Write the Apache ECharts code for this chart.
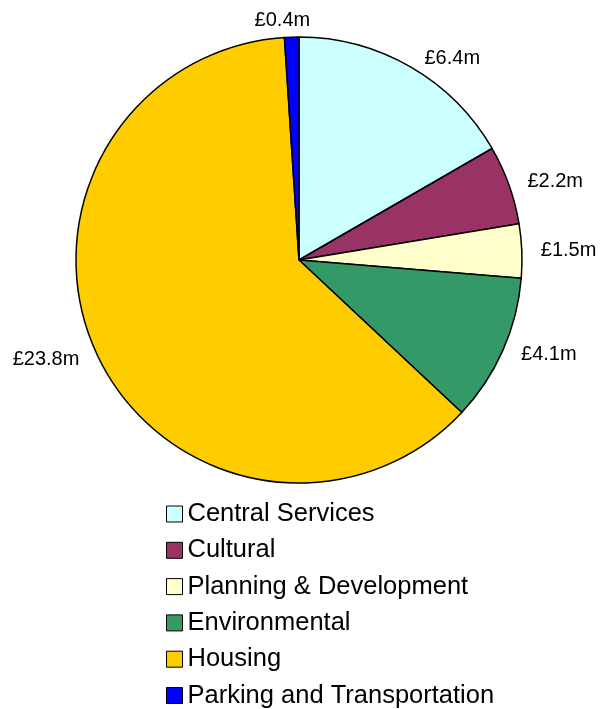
<!DOCTYPE html>
<html>
<head>
<meta charset="utf-8">
<script src="https://cdn.jsdelivr.net/npm/echarts@6/dist/echarts.min.js"></script>
<style>
html,body{margin:0;padding:0;background:#fff;}
#main{width:607px;height:709px;}
</style>
</head>
<body>
<div id="main"></div>
<script>
const categories = ["Central Services", "Cultural", "Planning & Development", "Environmental", "Housing", "Parking and Transportation"];
const values = [6.4, 2.2, 1.5, 4.1, 23.8, 0.4];
const colors = ["#CCFFFF", "#993366", "#FFFFCC", "#339966", "#FFCC00", "#0000FF"];

const chart = echarts.init(document.getElementById('main'), null, {renderer: 'canvas'});
chart.setOption({
  animation: false,
  backgroundColor: '#ffffff',
  color: colors,
  legend: {
    orient: 'vertical',
    left: 166,
    top: 501,
    padding: 0,
    height: 260,
    itemWidth: 16,
    itemHeight: 16,
    itemGap: 10.3,
    icon: 'rect',
    itemStyle: {borderColor: '#000', borderWidth: 1},
    textStyle: {fontFamily: 'Liberation Sans, Arial, sans-serif', fontSize: 25.5, color: '#000', lineHeight: 25},
    data: categories
  },
  series: [{
    type: 'pie',
    center: [299, 260],
    radius: 223,
    startAngle: 90,
    clockwise: true,
    avoidLabelOverlap: false,
    itemStyle: {borderColor: '#000', borderWidth: 1.5},
    emphasis: {disabled: true},
    label: {
      show: true,
      position: 'outside',
      formatter: p => '£' + p.value + 'm',
      fontFamily: 'Liberation Sans, Arial, sans-serif',
      fontSize: 20,
      color: '#000'
    },
    labelLine: {show: false, length: 10, length2: 4},
    labelLayout: p => (p.dataIndex === 5 ? {align: 'center', dy: -7} : {}),
    data: categories.map((c, i) => ({name: c, value: values[i]}))
  }]
});
</script>
</body>
</html>
